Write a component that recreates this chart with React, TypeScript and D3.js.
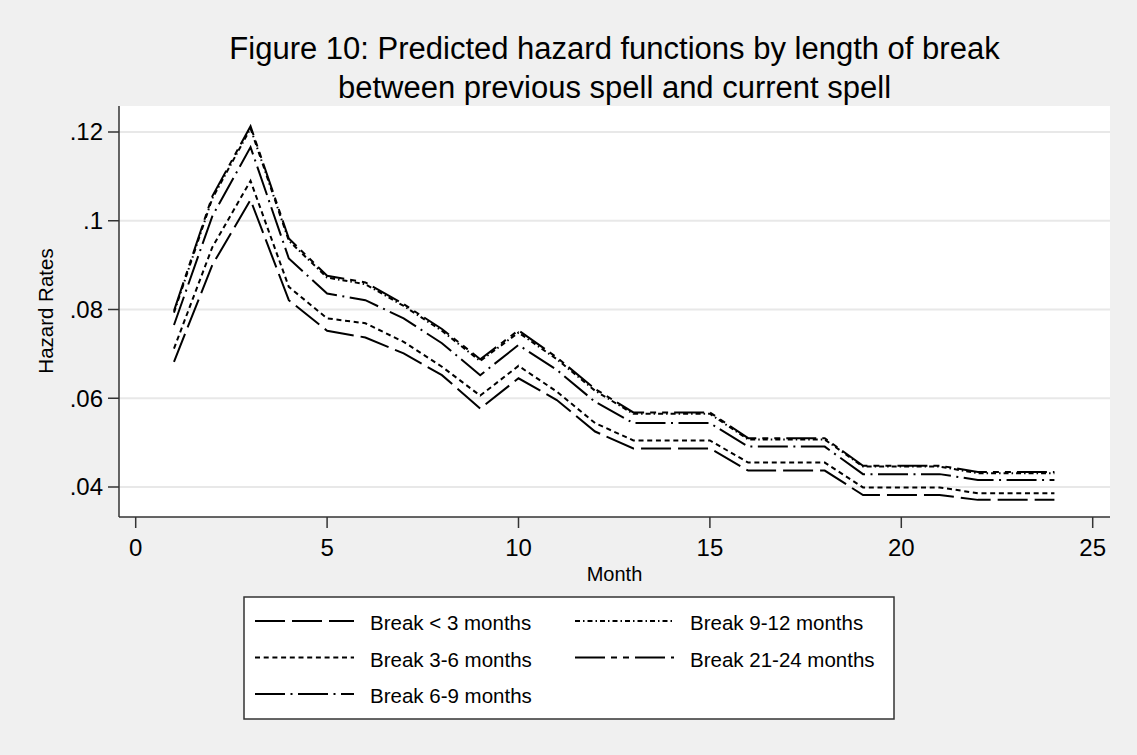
import React, { useEffect, useRef } from 'react';
import * as d3 from 'd3';

const months = [1, 2, 3, 4, 5, 6, 7, 8, 9, 10, 11, 12, 13, 14, 15, 16, 17, 18, 19, 20, 21, 22, 23, 24];

const breakLt3 = [.0682, .0900, .1047, .0821, .0752, .0737, .0701, .0652, .0577, .0645, .0596, .0525, .0487, .0487, .0487, .0437, .0437, .0437, .0382, .0382, .0382, .0371, .0371, .0371];
const break3to6 = [.0712, .0940, .1090, .0851, .0780, .0769, .0727, .0671, .0606, .0673, .0615, .0544, .0505, .0505, .0505, .0455, .0455, .0455, .0399, .0399, .0399, .0386, .0386, .0386];
const break6to9 = [.0765, .1010, .1166, .0915, .0836, .0821, .0780, .0724, .0652, .0720, .0664, .0592, .0544, .0544, .0544, .0491, .0491, .0491, .0429, .0429, .0429, .0416, .0416, .0416];
const break9to12 = [.0793, .1050, .1208, .0955, .0872, .0857, .0808, .0752, .0684, .0748, .0688, .0617, .0565, .0565, .0565, .0507, .0507, .0507, .0446, .0446, .0446, .0431, .0431, .0431];
const break21to24 = [.0797, .1055, .1213, .0960, .0876, .0861, .0812, .0756, .0688, .0753, .0692, .0621, .0568, .0568, .0568, .0510, .0510, .0510, .0448, .0448, .0448, .0434, .0434, .0434];

const xTicks = [0, 5, 10, 15, 20, 25];
const yTicks = [.04, .06, .08, .1, .12];
const yTickLabels = ['.04', '.06', '.08', '.1', '.12'];

const series = [
  { name: 'Break < 3 months', values: breakLt3, dash: '30,7' },
  { name: 'Break 3-6 months', values: break3to6, dash: '5,3.7' },
  { name: 'Break 6-9 months', values: break6to9, dash: '30,5.5,2,5.5' },
  { name: 'Break 9-12 months', values: break9to12, dash: '5,3,1.5,3' },
  { name: 'Break 21-24 months', values: break21to24, dash: '30,6,6,6,6,6' },
];

const W = 1137;
const H = 755;
const FONT = '"Liberation Sans", Arial, Helvetica, sans-serif';

const App = () => {
  const svgRef = useRef(null);

  useEffect(() => {
    const svg = d3.select(svgRef.current);
    svg.selectAll('*').remove();
    svg.attr('width', W).attr('height', H);

    const plot = { left: 119, right: 1110, top: 106, bottom: 517 };
    const x = d3.scaleLinear().domain([0, 25]).range([135.7, 1092.7]);
    const y = d3.scaleLinear().domain([.04, .12]).range([487, 132]);

    svg.append('rect').attr('width', W).attr('height', H).attr('fill', '#f0f0f0');

    svg.append('rect')
      .attr('x', plot.left).attr('y', plot.top)
      .attr('width', plot.right - plot.left).attr('height', plot.bottom - plot.top)
      .attr('fill', '#fff');

    // gridlines
    svg.append('g').selectAll('line').data(yTicks).enter().append('line')
      .attr('x1', plot.left).attr('x2', plot.right)
      .attr('y1', d => y(d)).attr('y2', d => y(d))
      .attr('stroke', '#e8e8e8').attr('stroke-width', 2);

    // title
    const title = svg.append('text')
      .attr('text-anchor', 'middle')
      .style('font-family', FONT).style('font-size', '31px').style('fill', '#000');
    title.append('tspan').attr('x', 614.5).attr('y', 59).text('Figure 10: Predicted hazard functions by length of break');
    title.append('tspan').attr('x', 614.5).attr('y', 98).text('between previous spell and current spell');

    // series
    const line = d3.line<number>()
      .x((d, i) => x(months[i]))
      .y(d => y(d));

    svg.append('g').selectAll('path').data(series).enter().append('path')
      .attr('d', d => line(d.values))
      .attr('fill', 'none')
      .attr('stroke', '#000')
      .attr('stroke-width', 2)
      .attr('stroke-dasharray', d => d.dash);

    // axes
    const axisColor = '#333';
    svg.append('line')
      .attr('x1', plot.left).attr('x2', plot.left)
      .attr('y1', plot.top).attr('y2', plot.bottom)
      .attr('stroke', axisColor).attr('stroke-width', 1.5);
    svg.append('line')
      .attr('x1', plot.left).attr('x2', plot.right)
      .attr('y1', plot.bottom).attr('y2', plot.bottom)
      .attr('stroke', axisColor).attr('stroke-width', 1.5);

    const yg = svg.append('g');
    yg.selectAll('line').data(yTicks).enter().append('line')
      .attr('x1', plot.left - 11).attr('x2', plot.left)
      .attr('y1', d => y(d)).attr('y2', d => y(d))
      .attr('stroke', axisColor).attr('stroke-width', 1.5);
    yg.selectAll('text').data(yTicks).enter().append('text')
      .attr('x', plot.left - 16).attr('y', d => y(d)).attr('dy', '0.35em')
      .attr('text-anchor', 'end')
      .style('font-family', FONT).style('font-size', '24px').style('fill', '#000')
      .text((d, i) => yTickLabels[i]);

    const xg = svg.append('g');
    xg.selectAll('line').data(xTicks).enter().append('line')
      .attr('x1', d => x(d)).attr('x2', d => x(d))
      .attr('y1', plot.bottom).attr('y2', plot.bottom + 11)
      .attr('stroke', axisColor).attr('stroke-width', 1.5);
    xg.selectAll('text').data(xTicks).enter().append('text')
      .attr('x', d => x(d)).attr('y', 556)
      .attr('text-anchor', 'middle')
      .style('font-family', FONT).style('font-size', '24px').style('fill', '#000')
      .text(d => String(d));

    svg.append('text')
      .attr('x', 614.5).attr('y', 581)
      .attr('text-anchor', 'middle')
      .style('font-family', FONT).style('font-size', '20px').style('fill', '#000')
      .text('Month');

    svg.append('text')
      .attr('transform', 'translate(52.5, 311) rotate(-90)')
      .attr('text-anchor', 'middle')
      .style('font-family', FONT).style('font-size', '20.5px').style('fill', '#000')
      .text('Hazard Rates');

    // legend
    svg.append('rect')
      .attr('x', 244).attr('y', 597).attr('width', 650).attr('height', 122)
      .attr('fill', '#fff').attr('stroke', axisColor).attr('stroke-width', 1.5);

    const cols = [255, 575];
    const rows = [621, 657.5, 694];
    const lg = svg.append('g').selectAll('g').data(series).enter().append('g')
      .attr('transform', (d, i) => {
        // column-major, 3 rows
        const col = Math.floor(i / 3);
        const row = i % 3;
        return `translate(${cols[col]}, ${rows[row]})`;
      });
    lg.append('line')
      .attr('x1', 0).attr('x2', 99).attr('y1', 0).attr('y2', 0)
      .attr('stroke', '#000').attr('stroke-width', 2)
      .attr('stroke-dasharray', d => d.dash);
    lg.append('text')
      .attr('x', 115).attr('y', 9)
      .style('font-family', FONT).style('font-size', '20.5px').style('fill', '#000')
      .text(d => d.name);
  }, []);

  return (
    <svg ref={svgRef} style={{ position: 'absolute', left: 0, top: 0, display: 'block' }}></svg>
  );
};

export default App;
